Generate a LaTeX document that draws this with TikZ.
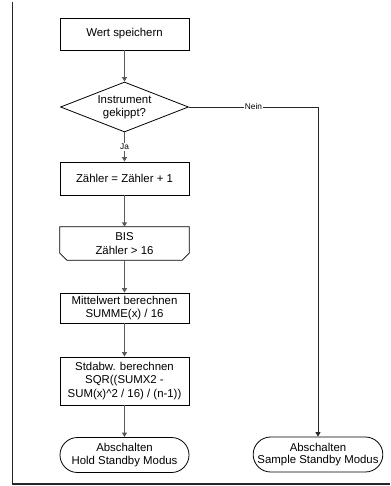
\documentclass[tikz,border=0pt]{standalone}
\usepackage{fontspec}
\setmainfont{Liberation Sans}
\usetikzlibrary{shapes.geometric,shapes.misc,arrows.meta}
\begin{document}
\begin{tikzpicture}[x=1pt,y=-1pt,
  every node/.style={font=\fontsize{11.4}{13.4}\selectfont, align=center, inner sep=0pt},
  proc/.style={draw, line width=0.8pt, minimum width=129pt},
  decide/.style={draw, line width=0.8pt, shape=diamond, aspect=2.56, minimum width=128pt, minimum height=50pt},
  term/.style={draw, line width=0.8pt, shape=rounded rectangle, minimum width=129pt, minimum height=35pt},
  flow/.style={draw=black!65, line width=1.1pt, -{Triangle[length=4.5pt,width=5pt]}},
  branch/.style={draw=black!85, line width=0.8pt, -{Triangle[length=4.5pt,width=5pt]}},
  tag/.style={font=\fontsize{8.3}{9}\selectfont, fill=white, inner sep=1pt}]
  \useasboundingbox (0,0) rectangle (390,486);

  % page frame
  \coordinate (ftop) at (12.5,2);
  \coordinate (fcorner) at (12.5,484);
  \coordinate (fright) at (390,484);
  \draw[line width=1.2pt, black!85] (ftop) -- (fcorner) -- (fright);

  % main column
  \node[proc, minimum height=32pt] (wert) at (124.5,34) {Wert speichern};
  \node[decide] (dia) at (124.5,107) {Instrument\\[-0.8pt]gekippt?};
  \node[proc, minimum height=33pt] (zaehler) at (124.5,178.5) {Zähler = Zähler + 1};
  \node[minimum width=129pt, minimum height=33pt] (bis) at (124.5,243.5) {BIS\\Zähler > 16};
  \draw[line width=0.8pt] (bis.north west) -- (bis.north east)
    -- ([yshift=7pt]bis.south east) -- ([xshift=-7pt]bis.south east)
    -- ([xshift=7pt]bis.south west) -- ([yshift=7pt]bis.south west) -- cycle;
  \node[proc, minimum height=30pt] (mittel) at (124.5,308) {Mittelwert berechnen\\SUMME(x) / 16};
  \node[proc, minimum height=48pt] (std) at (124.5,381) {Stdabw. berechnen\\SQR((SUMX2 -\\SUM(x)\^{}2 / 16) / (n-1))};
  \node[term] (hold) at (124.5,455) {Abschalten\\[-1pt]Hold Standby Modus};

  % right branch
  \node[term] (sample) at (318,454.5) {Abschalten\\[-1pt]Sample Standby Modus};

  % connectors
  \draw[flow] (wert) -- (dia);
  \draw[flow] (dia) -- node[tag] {Ja} (zaehler);
  \draw[flow] (zaehler) -- (bis);
  \draw[flow] (bis) -- (mittel);
  \draw[flow] (mittel) -- (std);
  \draw[flow] (std) -- (hold);
  \draw[branch] (dia.east) -| node[tag, pos=0.25] {Nein} (sample.north);
\end{tikzpicture}
\end{document}
